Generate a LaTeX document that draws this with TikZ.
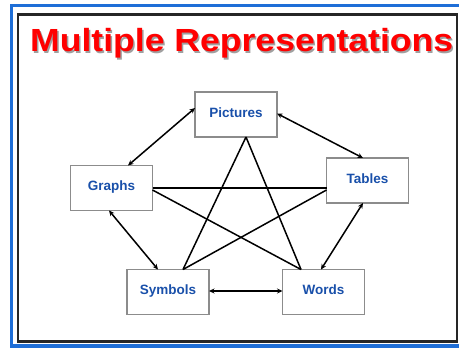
\documentclass[tikz,border=0pt]{standalone}
\usepackage{fontspec}
\setmainfont{Liberation Sans}
\usetikzlibrary{arrows.meta}
\definecolor{frameblue}{RGB}{30,110,215}
\definecolor{boxtext}{RGB}{25,80,170}
\definecolor{boxgray}{RGB}{140,140,140}
\definecolor{titlered}{RGB}{255,0,0}
\definecolor{shadowgray}{RGB}{160,160,160}
\newcommand{\titletext}{\resizebox{423pt}{\height}{\fontsize{32pt}{36pt}\selectfont\bfseries Multiple Representations}}
\begin{document}
\begin{tikzpicture}[x=1pt,y=-1pt,
  repbox/.style={draw=boxgray,line width=1.1pt,fill=white,minimum width=82pt,minimum height=45pt,inner sep=0pt,outer sep=0pt,
    font=\fontsize{13.5pt}{15pt}\selectfont\bfseries,text=boxtext},
  link/.style={draw=black,line width=1.5pt},
  twoway/.style={link,{Stealth[length=5.5pt,width=5pt]}-{Stealth[length=5.5pt,width=5pt]}}]
\useasboundingbox (0,0) rectangle (459,348);
\clip (0,0) rectangle (459,348);
\fill[white] (0,0) rectangle (459,348);
% frames
\draw[frameblue,line width=3.5pt] (11.5,5.5) rectangle (480,346);
\draw[black!85,line width=2.5pt] (18,14.5) rectangle (457,341.5);
% title
\node[anchor=base west,inner sep=0pt,text=shadowgray] (tshadow) at (31.5,53) {\titletext};
\node[anchor=base west,inner sep=0pt,text=titlered] (title) at (30,51.5) {\titletext};
% boxes
\node[repbox] (pic) at (236,114.5) {\raisebox{4.5pt}{Pictures}};
\node[repbox] (gra) at (111.5,188) {\raisebox{4pt}{Graphs}};
\node[repbox] (tab) at (367.5,180.5) {\raisebox{4.5pt}{Tables}};
\node[repbox] (sym) at (168,292) {\raisebox{4pt}{Symbols}};
\node[repbox] (wor) at (323.5,292) {\raisebox{4pt}{Words}};
% star lines
\draw[link] ([xshift=10pt]pic.south) -- ([xshift=15pt]sym.north);
\draw[link] ([xshift=10pt]pic.south) -- ([xshift=-22.5pt]wor.north);
\draw[link] (gra.east) -- ([yshift=-7.5pt]tab.west);
\draw[link] ([yshift=-2pt]gra.east) -- ([xshift=-22.5pt]wor.north);
\draw[link] ([yshift=-9.5pt]tab.west) -- ([xshift=15pt]sym.north);
% arrows
\draw[twoway] ([yshift=6.5pt]pic.west) -- ([xshift=16.5pt]gra.north);
\draw[twoway] ([yshift=1pt]pic.east) -- ([xshift=-4.5pt]tab.north);
\draw[twoway] ([xshift=-2.5pt]gra.south) -- ([xshift=-10pt]sym.north);
\draw[twoway] ([xshift=-4.5pt]tab.south) -- ([xshift=-2.5pt]wor.north);
\draw[twoway] ([yshift=1pt]sym.east) -- ([yshift=1pt]wor.west);
\end{tikzpicture}
\end{document}
